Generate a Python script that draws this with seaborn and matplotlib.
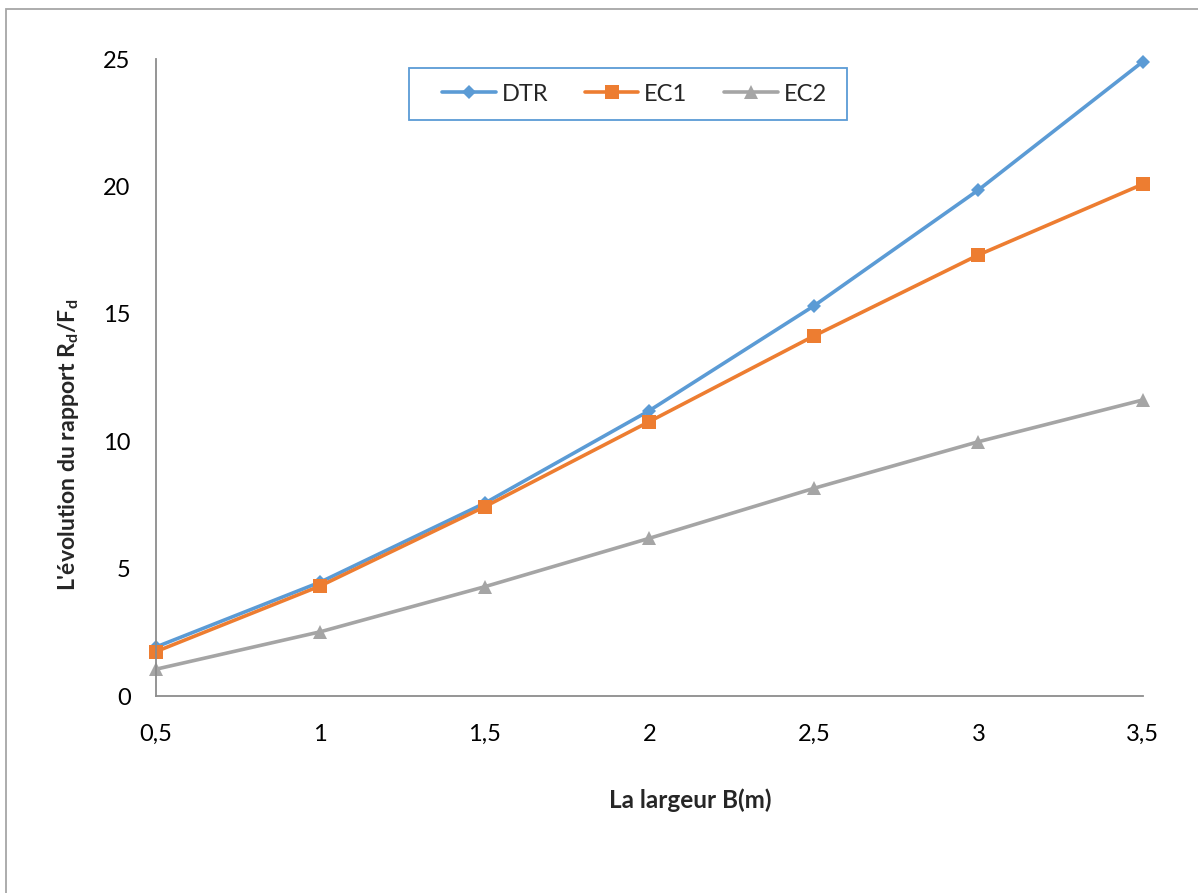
import numpy as np
import pandas as pd
import matplotlib
matplotlib.use("Agg")
import matplotlib.pyplot as plt
import seaborn as sns
from matplotlib.patches import Rectangle

# ---- data ----
largeur = [0.5, 1.0, 1.5, 2.0, 2.5, 3.0, 3.5]
x_labels = ["0,5", "1", "1,5", "2", "2,5", "3", "3,5"]
dtr = [1.92, 4.47, 7.57, 11.2, 15.31, 19.86, 24.9]
ec1 = [1.74, 4.32, 7.43, 10.77, 14.13, 17.31, 20.09]
ec2 = [1.05, 2.52, 4.29, 6.19, 8.15, 9.98, 11.62]
series_names = ["DTR", "EC1", "EC2"]
y_ticks = [0, 5, 10, 15, 20, 25]

sns.set_style("white")
plt.rcParams['font.family'] = ['Lato', 'DejaVu Sans']
plt.rcParams['mathtext.fontset'] = 'custom'
plt.rcParams['mathtext.rm'] = 'Lato'
plt.rcParams['mathtext.bf'] = 'Lato:bold'

df = pd.DataFrame({
    "B": largeur * 3,
    "val": dtr + ec1 + ec2,
    "serie": sum([[n] * len(largeur) for n in series_names], []),
})

colors = {"DTR": "#5B9BD5", "EC1": "#ED7D31", "EC2": "#A5A5A5"}
markers = {"DTR": "D", "EC1": "s", "EC2": "^"}

W, H = 1198, 893
fig = plt.figure(figsize=(W / 100, H / 100), dpi=100)
ax = fig.add_axes([0.130, 0.2206, 0.824, 0.7133])

sns.lineplot(data=df, x="B", y="val", hue="serie", style="serie",
             palette=colors, markers=markers, dashes=False,
             linewidth=2.6, markersize=9.5, markeredgewidth=0,
             ax=ax, legend=True)
for line in ax.get_lines():
    line.set_clip_on(False)
    if line.get_marker() == "D":
        line.set_markersize(7)

ax.set_xlim(0.5, 3.5)
ax.set_ylim(0, 25)
ax.set_xticks(largeur)
ax.set_xticklabels(x_labels)
ax.set_yticks(y_ticks)
ax.tick_params(axis="both", length=0, labelsize=17, colors="#000000")
ax.tick_params(axis="y", pad=18)
ax.tick_params(axis="x", pad=20)

for s in ["top", "right"]:
    ax.spines[s].set_visible(False)
for s in ["left", "bottom"]:
    ax.spines[s].set_color("#8C8C8C")
    ax.spines[s].set_linewidth(1.3)

ax.set_xlabel("La largeur B(m)", fontsize=17.5, fontweight="bold", labelpad=0)
ax.set_ylabel(r"L'évolution du rapport R$_{\mathbf{d}}$/F$_{\mathbf{d}}$",
              fontsize=16.6, fontweight="bold", labelpad=0)
ax.xaxis.set_label_coords(0.541, -0.145)
ax.yaxis.set_label_coords(-0.076, 0.394)

handles, labels = ax.get_legend_handles_labels()
for h in handles:
    if h.get_marker() == "D":
        h.set_markersize(7)
leg = ax.legend(handles, labels, loc="center", bbox_to_anchor=(0.485, 0.945),
                ncol=3, fontsize=17, frameon=False,
                handlelength=2.25, columnspacing=1.57, borderpad=0.0,
                handletextpad=0.25, borderaxespad=0)

# custom legend frame (wider horizontal padding like the original)
fig.canvas.draw()
bb = leg.get_window_extent()
yc = (bb.y0 + bb.y1) / 2
x0 = bb.x0 - 33
x1 = bb.x1 + 20
fig.patches.append(Rectangle((x0 / W, (yc - 26) / H), (x1 - x0) / W, 52 / H,
                             transform=fig.transFigure, fill=False,
                             edgecolor="#5B9BD5", linewidth=1.3))

# outer chart border (cropped on right and bottom)
fig.patches.append(Rectangle((6 / W, -0.1), 1.2, 1 - 9 / H + 0.1,
                             transform=fig.transFigure, fill=False,
                             edgecolor="#A6A6A6", linewidth=1.3))

fig.savefig("out.png", dpi=100)
